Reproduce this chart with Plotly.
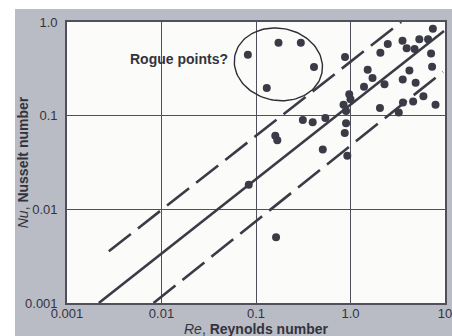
import numpy as np
import plotly.graph_objects as go

# Measured heat-transfer data: Reynolds number vs Nusselt number
re_main = [0.875, 2.07, 2.48, 3.55, 3.93, 4.77, 5.35, 6.62, 7.44, 7.12, 7.30,
           4.20, 3.57, 4.89, 1.52, 1.71, 1.39, 2.29, 0.97, 1.00, 0.844, 0.897,
           2.05, 3.24, 3.59, 4.60, 5.91, 7.94, 0.313, 0.398, 0.542, 0.897,
           0.869, 0.160, 0.168, 0.509, 0.925, 0.0838, 0.163]
nu_main = [0.424, 0.471, 0.583, 0.632, 0.525, 0.516, 0.655, 0.655, 0.847, 0.460, 0.332,
           0.303, 0.243, 0.224, 0.309, 0.252, 0.204, 0.216, 0.169, 0.150, 0.131, 0.112,
           0.121, 0.108, 0.138, 0.142, 0.161, 0.131, 0.090, 0.0849, 0.0946, 0.0828,
           0.0655, 0.0612, 0.0548, 0.0435, 0.0373, 0.0183, 0.00504]

# Suspicious points well above the correlation band
re_rogue = [0.082, 0.173, 0.298, 0.411, 0.130]
nu_rogue = [0.446, 0.602, 0.602, 0.330, 0.197]

# Correlation line (solid) and its upper/lower bounds (dashed), as end points
re_fit = [0.00217, 9.76]
nu_fit = [0.001, 0.80]
re_upper = [0.00277, 3.44]
nu_upper = [0.00357, 1.0]
re_lower = [0.00824, 9.5]
nu_lower = [0.001, 0.294]

x_ticks = [0.001, 0.01, 0.1, 1, 10]
x_ticktext = ["0.001", "0.01", "0.1", "1.0", "10"]
y_ticks = [0.001, 0.01, 0.1, 1]
y_ticktext = ["0.001", "0.01", "0.1", "1.0"]

INK = "#3b3b47"
FRAME = "#b9bcc4"
FONT = "Liberation Sans"

fig = go.Figure()

line_style = dict(color=INK, width=2.6)
fig.add_trace(go.Scatter(x=re_fit, y=nu_fit, mode="lines", line=line_style,
                         showlegend=False, hoverinfo="skip"))
fig.add_trace(go.Scatter(x=re_upper, y=nu_upper, mode="lines",
                         line=dict(line_style, dash="28px,9px"),
                         showlegend=False, hoverinfo="skip"))
fig.add_trace(go.Scatter(x=re_lower, y=nu_lower, mode="lines",
                         line=dict(line_style, dash="28px,9px"),
                         showlegend=False, hoverinfo="skip"))

marker = dict(size=8, color=INK)
fig.add_trace(go.Scatter(x=re_main, y=nu_main, mode="markers", marker=marker,
                         showlegend=False))
fig.add_trace(go.Scatter(x=re_rogue, y=nu_rogue, mode="markers", marker=marker,
                         showlegend=False))

# Hand-drawn loop around the rogue points (ellipse in log-log space)
t = np.linspace(0, 2 * np.pi, 120)
cx, cy, a, b, phi = -0.763, -0.452, 0.47, 0.385, -0.2
lx = cx + a * np.cos(t) * np.cos(phi) - b * np.sin(t) * np.sin(phi)
ly = cy + a * np.cos(t) * np.sin(phi) + b * np.sin(t) * np.cos(phi)
fig.add_trace(go.Scatter(x=10 ** lx, y=10 ** ly, mode="lines",
                         line=dict(color="#2e2e36", width=1.4),
                         showlegend=False, hoverinfo="skip"))

fig.add_annotation(x=-1.27, y=-0.39, xref="x", yref="y", text="<b>Rogue points?</b>",
                   showarrow=False, xanchor="right", yanchor="middle",
                   font=dict(family=FONT, size=14, color="#33333d"))

# Axis titles
fig.add_annotation(x=0.5, y=-0.0925, xref="paper", yref="paper",
                   text="<i>Re</i>, <b>Reynolds number</b>", showarrow=False,
                   xanchor="center", yanchor="middle",
                   font=dict(family=FONT, size=14, color="#33333d"))
fig.add_annotation(x=-0.117, y=0.5, xref="paper", yref="paper",
                   text="<i>Nu</i>, <b>Nusselt number</b>", showarrow=False,
                   textangle=-90, xanchor="center", yanchor="middle",
                   font=dict(family=FONT, size=14, color="#33333d"))

# Grey board behind the chart, with the white plotting field on top
fig.add_shape(type="rect", xref="paper", yref="paper", x0=-0.1376, x1=1.02,
              y0=-0.12, y1=1.046, fillcolor=FRAME, line=dict(width=0), layer="below")
fig.add_shape(type="rect", xref="paper", yref="paper", x0=0, x1=1, y0=0, y1=1,
              fillcolor="#fbfbf9", line=dict(width=0), layer="below")

axis_common = dict(type="log", showgrid=True, gridcolor="#50505c", gridwidth=1.4,
                   showline=True, linecolor="#50505c", linewidth=1.6, mirror=True,
                   ticks="", zeroline=False, ticklabeloverflow="allow",
                   tickfont=dict(family=FONT, size=13, color="#33333d"))

fig.update_xaxes(range=[-3, 1], tickvals=x_ticks, ticktext=x_ticktext,
                 ticklabelstandoff=-2, **axis_common)
fig.update_yaxes(range=[-3, 0], tickvals=y_ticks, ticktext=y_ticktext,
                 ticklabelstandoff=5, **axis_common)

fig.update_layout(width=452, height=336,
                  margin=dict(l=67, r=7, t=22, b=33, autoexpand=False),
                  paper_bgcolor="white", plot_bgcolor="#fbfbf9")

fig.write_html("out.html")
